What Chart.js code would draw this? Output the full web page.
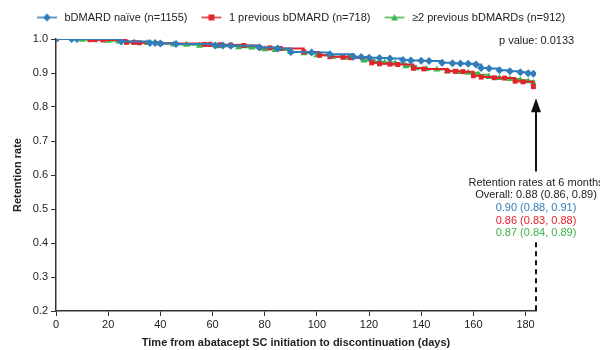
<!DOCTYPE html>
<html>
<head>
<title>Abatacept SC retention</title>
<script src="https://cdn.jsdelivr.net/npm/chart.js"></script>
<style>
  html, body { margin: 0; padding: 0; background: #fff; }
  #wrap { width: 600px; height: 350px; }
</style>
</head>
<body>
<div id="wrap"><canvas id="chart"></canvas></div>
<script>
// ---- data ----
const xTicks = [0, 20, 40, 60, 80, 100, 120, 140, 160, 180];
const yTicks = [0.2, 0.3, 0.4, 0.5, 0.6, 0.7, 0.8, 0.9, 1.0];

const naiveDays  = [0, 6, 8, 25, 36, 38, 40, 46, 61, 64, 67, 78, 85, 90, 98, 105, 114, 117, 120, 124, 128, 133, 136, 140, 143, 148, 152, 155, 158, 161, 163, 166, 170, 174, 178, 181, 183];
const naiveRates = [1.0, 1.0, 1.0, 0.993, 0.988, 0.988, 0.987, 0.985, 0.981, 0.981, 0.980, 0.975, 0.972, 0.962, 0.960, 0.955, 0.948, 0.947, 0.945, 0.944, 0.943, 0.938, 0.937, 0.936, 0.935, 0.930, 0.929, 0.928, 0.927, 0.925, 0.915, 0.913, 0.908, 0.905, 0.902, 0.899, 0.898];

const prev1Days  = [0, 13, 15, 18, 27, 30, 32, 40, 57, 59, 63, 67, 72, 78, 82, 86, 95, 101, 105, 110, 113, 121, 124, 128, 131, 137, 141, 150, 153, 156, 160, 163, 168, 172, 176, 179, 183];
const prev1Rates = [1.0, 0.998, 0.998, 0.997, 0.990, 0.990, 0.989, 0.987, 0.984, 0.984, 0.983, 0.982, 0.981, 0.975, 0.974, 0.972, 0.962, 0.952, 0.948, 0.946, 0.945, 0.930, 0.927, 0.926, 0.925, 0.914, 0.912, 0.906, 0.905, 0.904, 0.892, 0.888, 0.886, 0.885, 0.876, 0.874, 0.860];

const prev2Days  = [0, 10, 20, 24, 30, 35, 45, 50, 55, 62, 70, 75, 80, 84, 90, 95, 100, 106, 112, 118, 122, 126, 130, 134, 138, 142, 146, 150, 154, 158, 162, 166, 170, 174, 178, 181, 183];
const prev2Rates = [1.0, 0.998, 0.995, 0.993, 0.990, 0.988, 0.984, 0.983, 0.980, 0.979, 0.976, 0.975, 0.970, 0.968, 0.962, 0.958, 0.952, 0.948, 0.945, 0.937, 0.933, 0.931, 0.928, 0.920, 0.914, 0.912, 0.910, 0.905, 0.903, 0.901, 0.895, 0.888, 0.885, 0.882, 0.879, 0.876, 0.871];

const seriesLabels = ["bDMARD na\u00efve (n=1155)", "1 previous bDMARD (n=718)", "\u22652 previous bDMARDs (n=912)"];
const sixMonthDay = 184;
const pValueText = "p value: 0.0133";
const noteLines = ["Retention rates at 6 months", "Overall: 0.88 (0.86, 0.89)", "0.90 (0.88, 0.91)", "0.86 (0.83, 0.88)", "0.87 (0.84, 0.89)"];

const BLUE = "#2f7dba", RED = "#e2232b", GREEN = "#3db44b";
const FONT = "'Liberation Sans', Arial, Helvetica, sans-serif";
const INK = "#222";

function pts(days, rates) {
    return days.map((d, i) => ({ x: d, y: rates[i] }));
}

// legend symbol: short line with the marker on it
function legendIcon(color, style) {
    const c = document.createElement("canvas");
    c.width = 24; c.height = 10;
    const g = c.getContext("2d");
    g.strokeStyle = color; g.fillStyle = color; g.lineWidth = 1.5;
    g.beginPath(); g.moveTo(2, 5); g.lineTo(22, 5); g.stroke();
    g.beginPath();
    if (style === "diamond") { g.moveTo(12, 1); g.lineTo(16, 5); g.lineTo(12, 9); g.lineTo(8, 5); }
    else if (style === "square") { g.rect(9, 2, 6, 6); }
    else { g.moveTo(12, 1.5); g.lineTo(15.5, 8); g.lineTo(8.5, 8); }
    g.closePath(); g.fill();
    return c;
}
const icons = [legendIcon(BLUE, "diamond"), legendIcon(RED, "square"), legendIcon(GREEN, "triangle")];

/* give the legend box a few extra pixels below the items */
const legendGap = {
    id: "legendGap",
    beforeLayout(chart) {
        const lg = chart.legend;
        if (lg && !lg._gapPatched) {
            const fit = lg.fit;
            lg.fit = function () { fit.call(this); this.height += 6; };
            lg._gapPatched = true;
        }
    }
};

/* arrow, dashed line and texts */
const notes = {
    id: "notes",
    afterDraw(chart) {
        const ctx = chart.ctx, xs = chart.scales.x, ys = chart.scales.y;
        const ax = xs.getPixelForValue(sixMonthDay);
        ctx.save();
        ctx.strokeStyle = "#111"; ctx.fillStyle = "#111"; ctx.lineWidth = 2;
        // solid arrow
        const tip = ys.getPixelForValue(0.826), tail = ys.getPixelForValue(0.61);
        ctx.beginPath(); ctx.moveTo(ax, tail); ctx.lineTo(ax, tip + 10); ctx.stroke();
        ctx.beginPath(); ctx.moveTo(ax, tip); ctx.lineTo(ax - 5, tip + 14); ctx.lineTo(ax + 5, tip + 14); ctx.closePath(); ctx.fill();
        // dashed
        ctx.setLineDash([5, 4]);
        ctx.beginPath(); ctx.moveTo(ax, ys.getPixelForValue(0.402)); ctx.lineTo(ax, ys.getPixelForValue(0.2)); ctx.stroke();
        ctx.setLineDash([]);
        // texts
        ctx.font = "11px " + FONT;
        ctx.textAlign = "center"; ctx.textBaseline = "middle";
        const colors = [INK, INK, BLUE, RED, GREEN];
        const y0 = ys.getPixelForValue(0.577);
        noteLines.forEach((t, i) => {
            ctx.fillStyle = colors[i];
            ctx.fillText(t, ax, y0 + i * 12.6);
        });
        ctx.fillStyle = INK;
        ctx.textAlign = "left";
        ctx.fillText(pValueText, 499, ys.getPixelForValue(0.995));
        ctx.restore();
    }
};

const common = { borderWidth: 2, pointBorderWidth: 0, stepped: true, fill: false };

new Chart(document.getElementById("chart"), {
    type: "line",
    data: {
        datasets: [
            { ...common, label: seriesLabels[0], data: pts(naiveDays, naiveRates), borderColor: BLUE, backgroundColor: BLUE,
              pointStyle: "rectRot", pointRadius: 4 },
            { ...common, label: seriesLabels[1], data: pts(prev1Days, prev1Rates), borderColor: RED, backgroundColor: RED,
              pointStyle: "rect", pointRadius: 3.5 },
            { ...common, label: seriesLabels[2], data: pts(prev2Days, prev2Rates), borderColor: GREEN, backgroundColor: GREEN,
              pointStyle: "triangle", pointRadius: 4 }
        ]
    },
    options: {
        responsive: true,
        maintainAspectRatio: false,
        animation: false,
        layout: { padding: { left: 0, right: 0, top: 0, bottom: 0 } },
        plugins: {
            tooltip: { enabled: false },
            legend: {
                position: "top",
                labels: {
                    color: INK,
                    font: { family: FONT, size: 11 },
                    usePointStyle: true,
                    pointStyleWidth: 24,
                    padding: 12,
                    generateLabels(chart) {
                        return chart.data.datasets.map((ds, i) => ({
                            text: ds.label, pointStyle: icons[i], fillStyle: ds.borderColor,
                            strokeStyle: ds.borderColor, lineWidth: 0, hidden: false, datasetIndex: i, fontColor: INK
                        }));
                    }
                }
            }
        },
        scales: {
            x: {
                type: "linear",
                min: 0, max: sixMonthDay,
                afterBuildTicks(s) { s.ticks = xTicks.map(v => ({ value: v })); },
                afterFit(s) { s.height = 39; },
                border: { display: true, color: "#333", width: 1.5 },
                grid: { drawOnChartArea: false, drawTicks: true, tickLength: 5, color: "#333" },
                ticks: { color: INK, font: { family: FONT, size: 11 }, padding: 2, maxRotation: 0 },
                title: { display: true, text: "Time from abatacept SC initiation to discontinuation (days)",
                         color: INK, font: { family: FONT, size: 11, weight: "bold" }, padding: { top: 4, bottom: 0 } }
            },
            y: {
                min: 0.2, max: 1.0,
                afterBuildTicks(s) { s.ticks = yTicks.map(v => ({ value: v })); },
                afterFit(s) { s.width = 56; },
                border: { display: true, color: "#333", width: 1.5 },
                grid: { drawOnChartArea: false, drawTicks: true, tickLength: 5, color: "#333" },
                ticks: { color: INK, font: { family: FONT, size: 11 }, padding: 3, callback: v => v.toFixed(1) },
                title: { display: true, text: "Retention rate", color: INK,
                         font: { family: FONT, size: 11, weight: "bold" }, padding: { top: 11, bottom: 0 } }
            },
            // empty right-hand strip that leaves room for the notes
            pad: {
                type: "linear", position: "right", display: true,
                afterFit(s) { s.width = 64; },
                border: { display: false }, grid: { display: false },
                ticks: { display: false }
            }
        }
    },
    plugins: [legendGap, notes]
});
</script>
</body>
</html>
